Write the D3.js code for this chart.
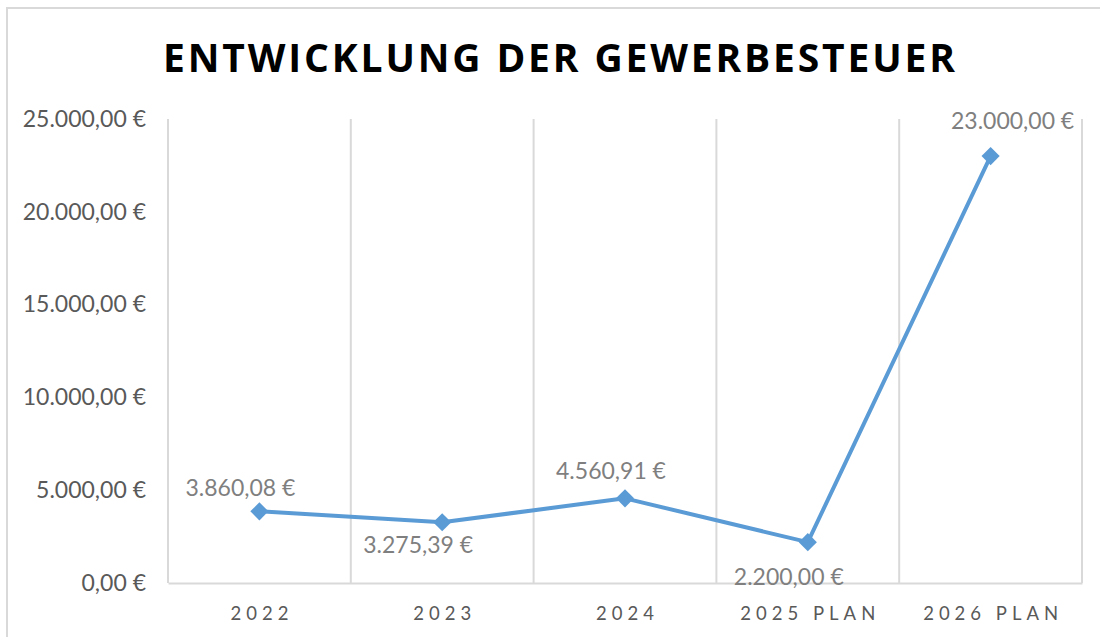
<!DOCTYPE html>
<html lang="de">
<head>
<meta charset="UTF-8">
<title>Entwicklung der Gewerbesteuer</title>
<style>
  body { margin: 0; background: #fff; }
  text { font-family: Lato, "Open Sans", sans-serif; }
</style>
</head>
<body>
<script src="https://cdn.jsdelivr.net/npm/d3@7"></script>
<script>
  // Daten
  var categories = ["2022", "2023", "2024", "2025 PLAN", "2026 PLAN"];
  var values = [3860.08, 3275.39, 4560.91, 2200.00, 23000.00];
  var yTicks = [0, 5000, 10000, 15000, 20000, 25000];

  // Lage der Beschriftungen relativ zum Punkt (wie im Original)
  var labelDx = [-19, -24, -14, -19, 22];
  var labelDy = [-23, 23, -27, 35, -35];

  var width = 1100, height = 637;
  var plotLeft = 168, plotRight = 1082, plotTop = 119, plotBottom = 583;

  var de = d3.formatLocale({ decimal: ",", thousands: ".", grouping: [3], currency: ["", " €"] });
  var fmt = de.format("$,.2f");

  var svg = d3.select("body").append("svg")
    .attr("width", width)
    .attr("height", height);

  // Rahmen
  svg.append("rect")
    .attr("x", 7).attr("y", 8)
    .attr("width", 1200).attr("height", 700)
    .attr("fill", "#fff")
    .attr("stroke", "#d9d9d9")
    .attr("stroke-width", 2);

  var x = d3.scaleBand().domain(categories).range([plotLeft, plotRight]).padding(0);
  var y = d3.scaleLinear().domain([0, 25000]).range([plotBottom, plotTop]);

  // vertikale Gitterlinien an den Kategoriegrenzen
  var bounds = categories.map(function (c) { return x(c); }).concat([plotRight]);
  svg.selectAll("line.grid")
    .data(bounds)
    .enter().append("line")
    .attr("class", "grid")
    .attr("x1", function (d) { return d; })
    .attr("x2", function (d) { return d; })
    .attr("y1", plotTop).attr("y2", plotBottom)
    .style("stroke", "#d9d9d9")
    .style("stroke-width", 2);

  // x-Achse
  var xAxis = svg.append("g")
    .attr("transform", "translate(0," + plotBottom + ")")
    .call(d3.axisBottom(x).tickSize(0).tickPadding(24));
  xAxis.select(".domain").style("stroke", "#d9d9d9").style("stroke-width", 2);
  xAxis.selectAll("text")
    .attr("dx", "2.5px")
    .style("font-family", "Lato, sans-serif")
    .style("font-size", "18.5px")
    .style("letter-spacing", "5px")
    .style("fill", "#595959");

  // y-Achse
  var yAxis = svg.append("g")
    .attr("transform", "translate(" + (plotLeft - 22) + ",0)")
    .call(d3.axisLeft(y).tickValues(yTicks).tickFormat(fmt).tickSize(0).tickPadding(0));
  yAxis.select(".domain").remove();
  yAxis.selectAll("text")
    .style("font-family", "Lato, sans-serif")
    .style("font-size", "23px")
    .style("fill", "#595959");

  // Linie
  var cx = function (d, i) { return x(categories[i]) + x.bandwidth() / 2; };
  var line = d3.line()
    .x(cx)
    .y(function (d) { return y(d); });

  svg.append("path")
    .datum(values)
    .attr("d", line)
    .attr("fill", "none")
    .attr("stroke", "#5b9bd5")
    .attr("stroke-width", 4)
    .attr("stroke-linejoin", "round");

  svg.selectAll("path.marker")
    .data(values)
    .enter().append("path")
    .attr("class", "marker")
    .attr("d", d3.symbol().type(d3.symbolDiamond2).size(210))
    .attr("transform", function (d, i) { return "translate(" + cx(d, i) + "," + y(d) + ")"; })
    .attr("fill", "#5b9bd5");

  // Datenbeschriftungen
  svg.selectAll("text.label")
    .data(values)
    .enter().append("text")
    .attr("class", "label")
    .attr("x", function (d, i) { return cx(d, i) + labelDx[i]; })
    .attr("y", function (d, i) { return y(d) + labelDy[i]; })
    .attr("dy", "0.35em")
    .attr("text-anchor", "middle")
    .style("font-size", "23px")
    .style("fill", "#7f7f7f")
    .text(function (d) { return fmt(d); });

  // Titel
  svg.append("text")
    .attr("x", 559).attr("y", 72)
    .attr("text-anchor", "middle")
    .attr("textLength", 792)
    .attr("lengthAdjust", "spacing")
    .style("font-family", "'Open Sans', sans-serif")
    .style("font-weight", "bold")
    .style("font-size", "39px")
    .style("fill", "#000")
    .text("ENTWICKLUNG DER GEWERBESTEUER");
</script>
</body>
</html>
